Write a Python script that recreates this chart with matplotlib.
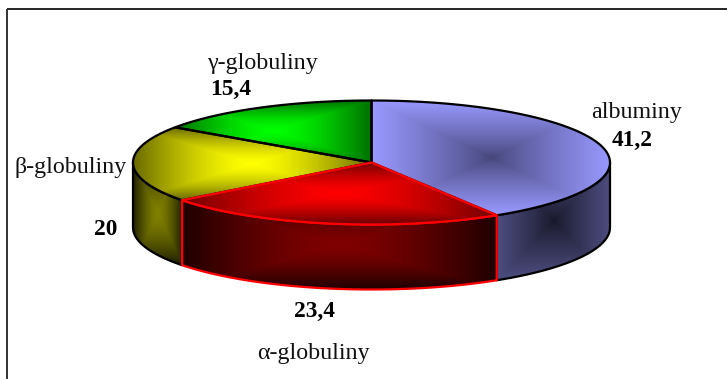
# -*- coding: utf-8 -*-
import numpy as np
import matplotlib
matplotlib.use('Agg')
import matplotlib.pyplot as plt
from matplotlib.patches import Polygon

plt.rcParams['font.family'] = ['Liberation Serif', 'DejaVu Serif']

# Data
names = ['albuminy', u'\u03b1-globuliny', u'\u03b2-globuliny', u'\u03b3-globuliny']
shares = [41.2, 23.4, 20, 15.4]

# Gradient colours, centre and rim
top_centre = [(70, 70, 122), (255, 0, 0), (255, 255, 0), (0, 255, 0)]
top_rim = [(153, 153, 255), (110, 0, 0), (105, 105, 0), (0, 110, 0)]
side_centre = [(24, 24, 42), (128, 0, 0), (128, 128, 0), (0, 128, 0)]
side_rim = [(77, 77, 128), (30, 0, 0), (30, 30, 0), (0, 40, 0)]
falloff = [0.85, 1.5, 1.5, 1.5]
outline = ['black', 'red', 'black', 'black']

# Label anchors (pixels)
name_xy = [(637, 118), (313, 359), (71, 173), (263, 69)]
share_xy = [(632, 146), (314, 317), (106, 235), (231, 95)]

# Pie geometry (pixels)
cx, cy = 371.5, 162.5
rx, ry = 238.5, 62.0
depth = 65.0
W, H = 727, 379


def rim(angles, drop=0.0):
    a = np.radians(angles)
    return np.column_stack([cx + rx * np.cos(a), cy - ry * np.sin(a) + drop])


def shade(ax, pts, centre, edge, power, color, z):
    # box gradient over the bounding rectangle of the polygon, clipped to it
    x0, y0 = pts.min(axis=0)
    x1, y1 = pts.max(axis=0)
    nx, ny = max(int(x1 - x0), 2) * 2, max(int(y1 - y0), 2) * 2
    u, v = np.meshgrid(np.linspace(-1, 1, nx), np.linspace(-1, 1, ny))
    t = np.maximum(np.abs(u), np.abs(v))[..., None] ** power
    c0 = np.array(centre) / 255.0
    c1 = np.array(edge) / 255.0
    img = c0 + (c1 - c0) * t
    im = ax.imshow(img, extent=(x0, x1, y1, y0), aspect='auto', zorder=z, interpolation='bilinear')
    patch = Polygon(pts, closed=True, fc='none', ec=color, lw=1.6, joinstyle='round', zorder=z + 0.5)
    ax.add_patch(patch)
    im.set_clip_path(patch)


fig = plt.figure(figsize=(W / 100, H / 100), dpi=100)
ax = fig.add_axes([0, 0, 1, 1])
ax.axis('off')

# Frame, top and left only
ax.plot([6.7, W], [8.8, 8.8], color='#111111', lw=1.3, solid_capstyle='butt', zorder=1)
ax.plot([6.7, 6.7], [8.8, H], color='#333333', lw=1.4, solid_capstyle='butt', zorder=1)

# Slices run clockwise from twelve o'clock
edges = 90 - 360 * np.cumsum([0] + shares) / np.sum(shares)
for i in np.argsort([o == 'red' for o in outline], kind='stable'):
    start, end = edges[i], edges[i + 1]
    arc = np.linspace(start, end, 200)
    top = np.vstack([[[cx, cy]], rim(arc)])
    z = 3 + 2 * (outline[i] == 'red')
    # wall only where the rim faces the viewer (-180..0 degrees)
    lo, hi = max(end, -180), min(start, 0)
    if hi > lo:
        wall = np.linspace(hi, lo, 120)
        side = np.vstack([rim(wall), rim(wall[::-1], depth)])
        shade(ax, side, side_centre[i], side_rim[i], falloff[i], outline[i], z)
    shade(ax, top, top_centre[i], top_rim[i], falloff[i], outline[i], z + 1)

# Labels
for i in range(len(names)):
    ax.text(name_xy[i][0], name_xy[i][1], names[i], ha='center', va='baseline',
            fontsize=17.3, color='#111111', zorder=9)
    ax.text(share_xy[i][0], share_xy[i][1], ('%g' % shares[i]).replace('.', ','),
            ha='center', va='baseline', fontsize=16.8, fontweight='bold', color='black', zorder=9)

ax.set_xlim(0, W)
ax.set_ylim(H, 0)
fig.savefig('out.png', dpi=100, facecolor='white')
